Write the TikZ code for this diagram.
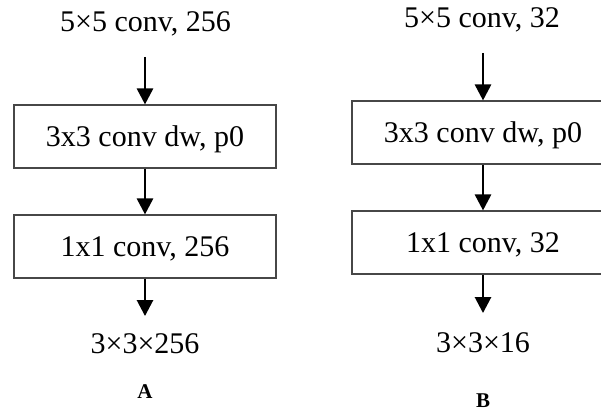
\documentclass[tikz,border=0pt]{standalone}
\usepackage{fontspec}
\setmainfont{Liberation Serif}
\usetikzlibrary{arrows.meta}
\begin{document}
\begin{tikzpicture}[x=1pt,y=-1pt,
  lbl/.style={font=\fontsize{30}{34}\selectfont, inner sep=0pt, text height=19.5pt, text depth=0pt, anchor=center},
  blk/.style={draw=black!72, line width=1.1pt, minimum width=262pt, minimum height=63pt, inner sep=0pt,
    font=\fontsize{30}{34}\selectfont, text height=19.5pt, text depth=0pt},
  captxt/.style={font=\fontsize{21}{25}\selectfont\bfseries, inner sep=0pt, text height=14pt, text depth=0pt},
  arr/.style={-{Triangle[width=16pt,length=16pt]}, line width=2.7pt, black}]
\useasboundingbox (0,0) rectangle (601,412);
\clip (0,0) rectangle (601,412);
% Column A
\node[lbl] (ta) at (145.5,22) {5×5 conv, 256};
\node[blk] (a1) at (145,136.5) {3x3 conv dw, p0};
\node[blk] (a2) at (145,246.5) {1x1 conv, 256};
\node[lbl] (ba) at (145,344) {3×3×256};
\node[captxt] (la) at (145,391) {A};
\draw[arr, shorten <=25pt] (ta.south -| a1.north) -- (a1.north);
\draw[arr] (a1.south) -- (a2.north);
\draw[arr, shorten >=18pt] (a2.south) -- (ba.north -| a2.south);
% Column B
\node[lbl] (tb) at (482,18) {5×5 conv, 32};
\node[blk] (b1) at (483,132.5) {3x3 conv dw, p0};
\node[blk] (b2) at (483,242.5) {1x1 conv, 32};
\node[lbl] (bb) at (483,343) {3×3×16};
\node[captxt] (lb) at (483,400) {B};
\draw[arr, shorten <=25pt] (tb.south -| b1.north) -- (b1.north);
\draw[arr] (b1.south) -- (b2.north);
\draw[arr, shorten >=20pt] (b2.south) -- (bb.north -| b2.south);
\end{tikzpicture}
\end{document}
